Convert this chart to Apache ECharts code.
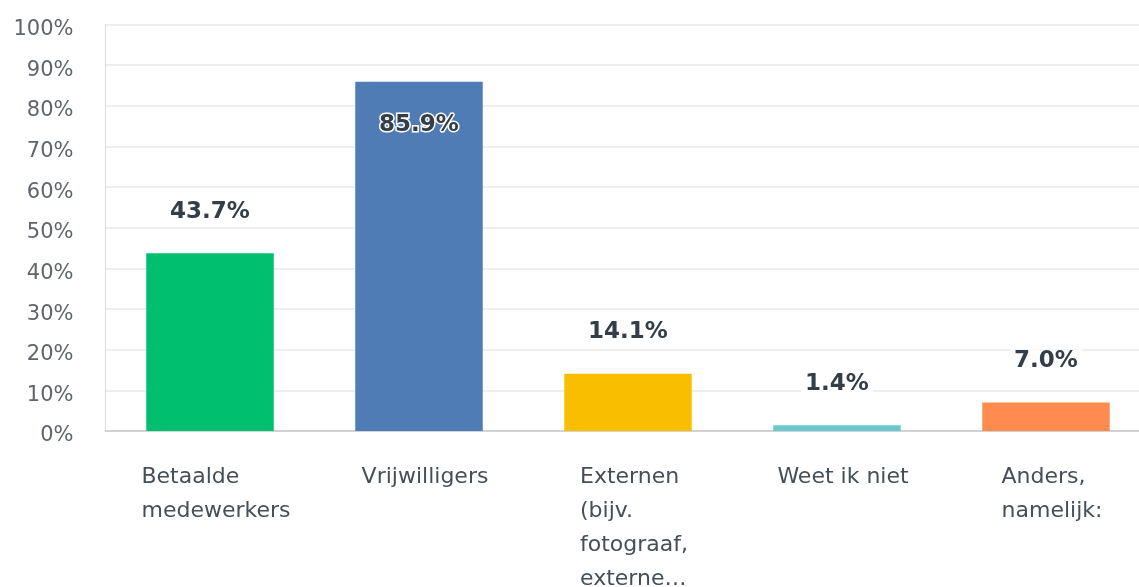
<!DOCTYPE html>
<html>
<head>
<meta charset="utf-8">
<script src="https://cdn.jsdelivr.net/npm/echarts@6/dist/echarts.min.js"></script>
<style>
  html, body { margin: 0; padding: 0; background: #fff; overflow: hidden; }
  /* de plot loopt rechts door buiten beeld */
  #chart { width: 1165px; height: 587px; }
</style>
</head>
<body>
<div id="chart"></div>
<script>
// categorieën + waarden (percentages)
const categories = ['Betaalde\nmedewerkers', 'Vrijwilligers', 'Externen\n(bijv.\nfotograaf,\nexterne…', 'Weet ik niet', 'Anders,\nnamelijk:'];
const values = [43.7, 85.9, 14.1, 1.4, 7.0];
const barColors = ['#00BF6F', '#507CB6', '#F9BE00', '#6BC8CD', '#FF8B4F'];
const insideIndex = 1; // label binnen de balk

const myChart = echarts.init(document.getElementById('chart'));

const seriesData = values.map((v, i) => {
  const item = { value: v, itemStyle: { color: barColors[i] } };
  if (i === insideIndex) {
    item.label = {
      position: 'insideTop',
      distance: 32,
      backgroundColor: 'transparent',
      textBorderColor: '#fff',
      textBorderWidth: 3
    };
  }
  return item;
});

const options = {
  animation: false,
  grid: {
    left: 105.5,
    top: 24.5,
    bottom: 156,
    width: 1045,
    outerBoundsMode: 'none'
  },
  xAxis: {
    type: 'category',
    data: categories,
    axisLine: { lineStyle: { color: '#d2d2d2', width: 2 } },
    axisTick: { show: false },
    axisLabel: {
      interval: 0,
      margin: 29,
      formatter: (val) => val.split('\n').map(l => '{a|' + l + '}').join('\n'),
      rich: {
        a: {
          align: 'left',
          padding: [0, 0, 0, 12],
          fontSize: 22,
          lineHeight: 34,
          color: '#454f59',
          fontFamily: 'DejaVu Sans'
        }
      }
    }
  },
  yAxis: {
    type: 'value',
    min: 0,
    max: 100,
    interval: 10,
    axisLine: { show: true, lineStyle: { color: '#dddddd', width: 1 } },
    axisTick: { show: false },
    splitLine: { lineStyle: { color: '#eeeeee', width: 2 } },
    axisLabel: {
      margin: 32,
      formatter: (v) => '{v|' + v + '%}',
      rich: {
        v: {
          padding: [10, 0, 0, 0],
          fontSize: 21,
          color: '#5f656b',
          fontFamily: 'DejaVu Sans'
        }
      }
    }
  },
  series: [
    {
      type: 'bar',
      barWidth: '61%',
      data: seriesData,
      label: {
        show: true,
        position: 'top',
        distance: 30,
        formatter: (p) => p.value.toFixed(1) + '%',
        fontSize: 23,
        fontWeight: 'bold',
        color: '#333e48',
        fontFamily: 'DejaVu Sans',
        backgroundColor: '#fff',
        padding: [0, 4]
      }
    }
  ]
};

myChart.setOption(options);
</script>
</body>
</html>
